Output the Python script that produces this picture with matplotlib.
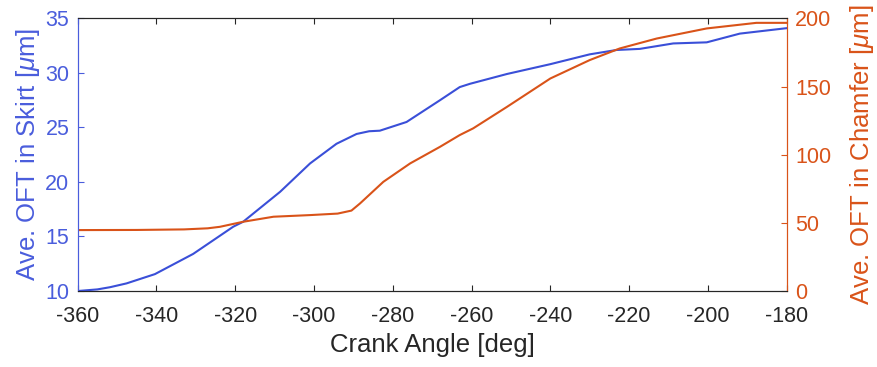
import matplotlib
matplotlib.use("Agg")
import matplotlib.pyplot as plt
import numpy as np

plt.rcParams['font.family'] = ['Liberation Sans', 'DejaVu Sans']
plt.rcParams['mathtext.fontset'] = 'custom'
plt.rcParams['mathtext.it'] = 'Liberation Sans:italic'
plt.rcParams['mathtext.rm'] = 'Liberation Sans'
plt.rcParams['axes.unicode_minus'] = False

# Blue series: average OFT in skirt [um]
skirt_angle = [-360, -355, -351.8, -347.6, -340.4, -330.7, -320.5, -318, -308.6, -301, -294.3,
               -289.2, -286, -283.3, -276.5, -271.4, -268, -263, -260.4, -251, -240, -230,
               -223.2, -217.3, -208.8, -200.3, -191.9, -180]
skirt_oft = [10.0, 10.15, 10.35, 10.7, 11.55, 13.4, 15.9, 16.35, 19.1, 21.7, 23.5,
             24.4, 24.65, 24.7, 25.5, 26.7, 27.5, 28.7, 29.0, 29.9, 30.8, 31.7,
             32.1, 32.2, 32.7, 32.8, 33.6, 34.1]

# Orange series: average OFT in chamfer [um]
chamfer_angle = [-360, -345, -333, -327, -323.9, -318, -310.3, -301, -294, -290.5, -288.3, -282.4,
                 -275.6, -268, -263, -259.6, -251, -240, -230, -222.4, -213, -200.3,
                 -187.7, -180]
chamfer_oft = [44.7, 44.8, 45.2, 46.0, 47.1, 50.8, 54.5, 55.7, 56.8, 59.0, 64.3, 80.1,
               93.6, 105.8, 114.4, 119.3, 135.1, 155.9, 169.4, 177.9, 185.2, 192.6,
               196.7, 196.7]

x_ticks = [-360, -340, -320, -300, -280, -260, -240, -220, -200, -180]
left_ticks = [10, 15, 20, 25, 30, 35]
right_ticks = [0, 50, 100, 150, 200]

blue = '#3a4fd8'
blue_txt = '#4a5ddc'
orange = '#d95319'

fig = plt.figure(figsize=(8.77, 3.67), dpi=100)
ax = fig.add_axes([0.0886, 0.207, 0.8084, 0.743])
ax2 = ax.twinx()

ax.plot(skirt_angle, skirt_oft, color=blue, lw=1.5, zorder=3)
ax2.plot(chamfer_angle, chamfer_oft, color=orange, lw=1.5)

ax.set_xlim(-360, -180)
ax.set_ylim(10, 35)
ax2.set_ylim(0, 200)
ax.set_xticks(x_ticks)
ax.set_yticks(left_ticks)
ax2.set_yticks(right_ticks)

fs = 15.5
lfs = 18.5
ax.tick_params(axis='x', direction='in', labelsize=fs, colors='#262626', length=4, top=True, pad=11)
ax.tick_params(axis='y', direction='in', labelsize=fs, colors=blue_txt, length=4, pad=6)
ax2.tick_params(axis='y', direction='in', labelsize=fs, colors=orange, length=4, pad=6)

ax.set_xlabel('Crank Angle [deg]', fontsize=lfs, color='#262626', labelpad=4)
ax.set_ylabel(r'Ave. OFT in Skirt [$\mu$m]', fontsize=lfs, color=blue_txt, labelpad=2)
ax2.set_ylabel(r'Ave. OFT in Chamfer [$\mu$m]', fontsize=lfs, color=orange, labelpad=12)

for a in (ax, ax2):
    a.spines['top'].set_color('#262626')
    a.spines['bottom'].set_color('#262626')
    a.spines['left'].set_color(blue_txt)
    a.spines['right'].set_color(orange)
    for s in a.spines.values():
        s.set_linewidth(0.8)

fig.savefig('out.png', dpi=100)
